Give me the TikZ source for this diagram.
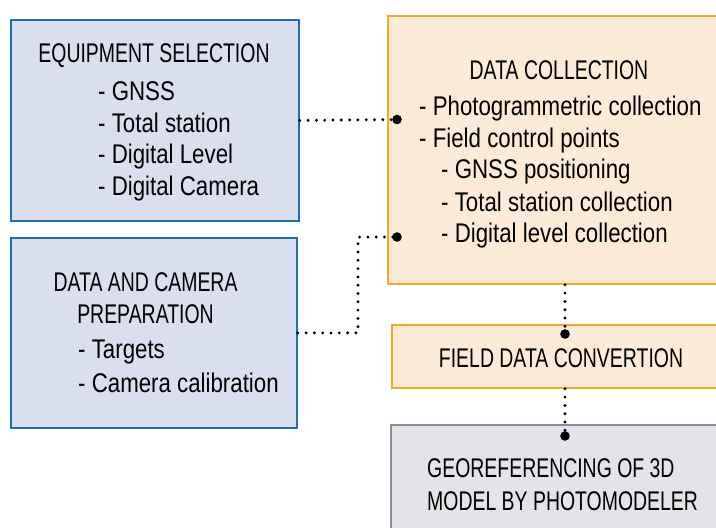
\documentclass[tikz,border=0pt]{standalone}
\usepackage{fontspec}
\setmainfont{Liberation Sans}
\newfontfamily\hdfont[FakeStretch=0.72]{Liberation Sans}
\newfontfamily\itfont[FakeStretch=0.825]{Liberation Sans}
\definecolor{bluefill}{RGB}{217,223,238}
\definecolor{blueline}{RGB}{30,112,182}
\definecolor{orfill}{RGB}{252,236,215}
\definecolor{orline}{RGB}{240,170,40}
\definecolor{grfill}{RGB}{228,227,232}
\definecolor{grline}{RGB}{135,138,152}
\tikzset{
  boxbase/.style={rectangle, line width=1.8pt, inner sep=0pt, anchor=north west},
  bluebox/.style={boxbase, draw=blueline, fill=bluefill},
  orbox/.style={boxbase, draw=orline, fill=orfill},
  grbox/.style={boxbase, draw=grline, fill=grfill},
  head/.style={inner sep=0pt, anchor=base, font=\hdfont\fontsize{27}{32}\selectfont},
  headl/.style={inner sep=0pt, anchor=base west, font=\hdfont\fontsize{27}{32}\selectfont},
  item/.style={inner sep=0pt, anchor=base west, font=\itfont\fontsize{27}{32}\selectfont},
  link/.style={line width=3.2pt, dash pattern=on 0pt off 8.3pt, line cap=round},
  enddot/.style={fill=black}
}
\begin{document}
\begin{tikzpicture}[x=1pt,y=-1pt]
\useasboundingbox (0,0) rectangle (716,528);
\begin{scope}
\clip (0,0) rectangle (716,528);
% boxes
\node[bluebox, minimum width=288pt, minimum height=201pt] (b1) at (10,19) {};
\node[bluebox, minimum width=286pt, minimum height=190pt] (b2) at (10,237) {};
\node[orbox, minimum width=344pt, minimum height=268pt] (o1) at (387,15) {};
\node[orbox, minimum width=340pt, minimum height=63pt] (f1) at (391,324) {};
\node[grbox, minimum width=346pt, minimum height=130pt] (g1) at (390,424) {};
\end{scope}
% texts box 1
\node[head] (t1) at (154,62) {EQUIPMENT SELECTION};
\node[item] (t2) at (98,100) {- GNSS};
\node[item] (t3) at (98,132) {- Total station};
\node[item] (t4) at (98,163) {- Digital Level};
\node[item] (t5) at (98,195) {- Digital Camera};
% texts box 2
\node[head] (u1) at (145.5,291) {DATA AND CAMERA};
\node[head] (u2) at (145.5,323) {PREPARATION};
\node[item] (u3) at (78,358) {- Targets};
\node[item] (u4) at (78,392) {- Camera calibration};
% texts data collection
\node[head] (v1) at (559,79) {DATA COLLECTION};
\node[item] (v2) at (419,115) {- Photogrammetric collection};
\node[item] (v3) at (419,147) {- Field control points};
\node[item] (v4) at (441,178) {- GNSS positioning};
\node[item] (v5) at (441,211) {- Total station collection};
\node[item] (v6) at (441,242) {- Digital level collection};
% field data
\node[head] (w1) at (561,367) {FIELD DATA CONVERTION};
% georef
\node[headl] (x1) at (427,477) {GEOREFERENCING OF 3D};
\node[headl] (x2) at (427,510) {MODEL BY PHOTOMODELER};
% connector end points
\coordinate (pa) at (397,119.5);
\coordinate (pb) at (397,237);
\coordinate (pbc) at (358,237);
\coordinate (pc) at (565,334);
\coordinate (pd) at (565,436);
% connectors
\draw[link] (b1.east) -- (pa);
\draw[link] (b2.east) -| (pbc) -- (pb);
\draw[link] (o1.south -| pc) -- (pc);
\draw[link] (f1.south -| pd) -- (pd);
\foreach \p in {pa,pb,pc,pd} \fill[enddot] (\p) circle (4.8pt);
\end{tikzpicture}
\end{document}
